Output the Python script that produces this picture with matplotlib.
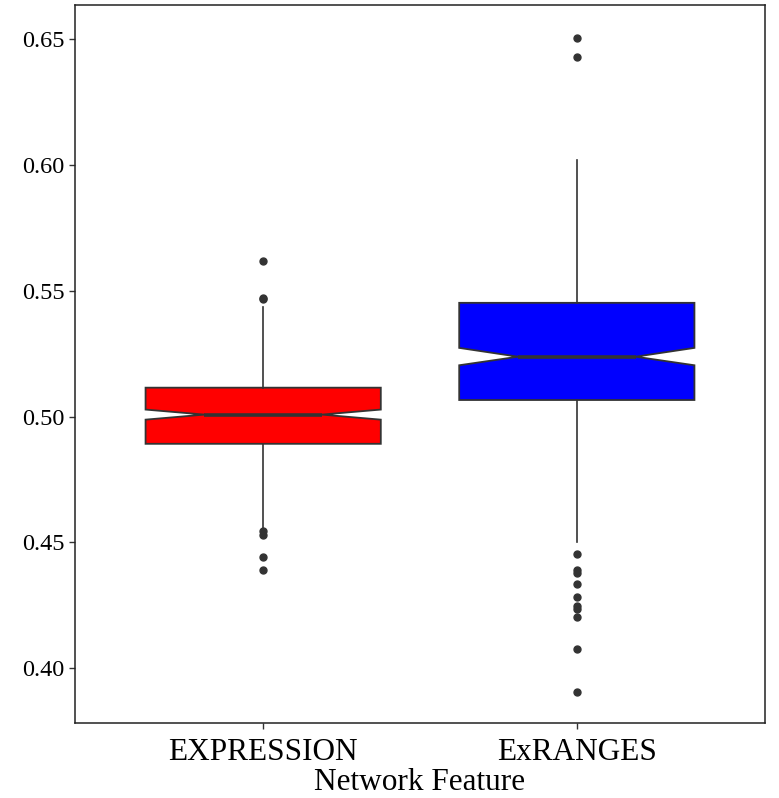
import matplotlib
matplotlib.use('Agg')
import matplotlib.pyplot as plt

# Values
features = ['EXPRESSION', 'ExRANGES']
colors = ['#ff0000', '#0000ff']
q1 = [0.4892, 0.5066]
median = [0.5008, 0.5238]
q3 = [0.5115, 0.5452]
notch_lo = [0.4988, 0.5204]
notch_hi = [0.5028, 0.5273]
whisker_lo = [0.4557, 0.4501]
whisker_hi = [0.5437, 0.6021]
outliers = [
    [0.5618, 0.5472, 0.5466, 0.4544, 0.4528, 0.4444, 0.4389],
    [0.6504, 0.6429, 0.4453, 0.4391, 0.4378, 0.4336, 0.4283,
     0.4249, 0.4237, 0.4204, 0.4077, 0.3906],
]
yticks = [0.40, 0.45, 0.50, 0.55, 0.60, 0.65]

plt.rcParams['font.family'] = ['Liberation Serif', 'DejaVu Serif']

fig = plt.figure(figsize=(7.79, 7.98), dpi=100)
ax = fig.add_axes([75 / 779, 1 - 722.5 / 798, 690 / 779, 717.5 / 798])

stats = []
for i, name in enumerate(features):
    stats.append(dict(label=name, q1=q1[i], med=median[i], q3=q3[i],
                      cilo=notch_lo[i], cihi=notch_hi[i],
                      whislo=whisker_lo[i], whishi=whisker_hi[i],
                      fliers=outliers[i]))

edge = '#333333'
bp = ax.bxp(stats, positions=[1, 2], widths=0.75, shownotches=True,
            patch_artist=True, showcaps=False,
            boxprops=dict(edgecolor=edge, linewidth=1.3),
            whiskerprops=dict(color=edge, linewidth=1.2),
            medianprops=dict(color=edge, linewidth=2.6),
            flierprops=dict(marker='o', markerfacecolor=edge,
                            markeredgecolor=edge, markersize=5))
for patch, c in zip(bp['boxes'], colors):
    patch.set_facecolor(c)

ax.set_xlim(0.4, 2.6)
ax.set_ylim(0.3785, 0.6635)
ax.set_yticks(yticks)
ax.set_yticklabels(['%.2f' % v for v in yticks], fontsize=17.5)
ax.set_xticks([1, 2])
ax.set_xticklabels(features, fontsize=22.5)
ax.tick_params(axis='both', color=edge, length=4.5, width=1, colors='black')
ax.tick_params(axis='y', pad=3)
ax.tick_params(axis='x', pad=7)
ax.set_xlabel('Network Feature', fontsize=22.5, labelpad=0.5)
for s in ax.spines.values():
    s.set_color('#222222')
    s.set_linewidth(1.1)

fig.savefig('out.png', dpi=100)
